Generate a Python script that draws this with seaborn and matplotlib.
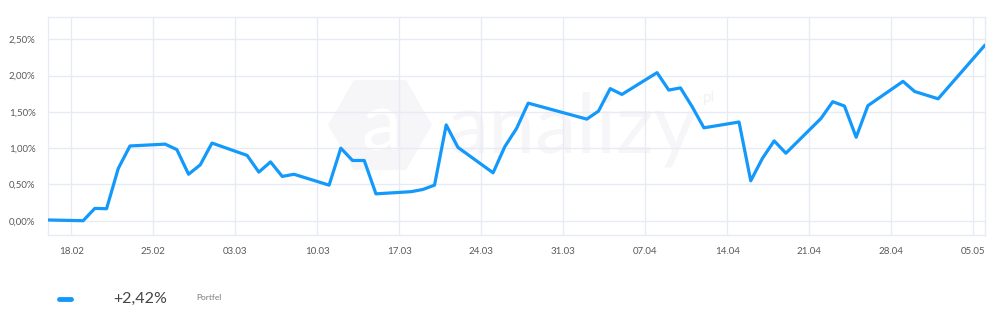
import matplotlib
matplotlib.use("Agg")
import matplotlib.pyplot as plt
import matplotlib.dates as mdates
import matplotlib.ticker as mticker
from matplotlib.patches import RegularPolygon
from matplotlib.transforms import IdentityTransform
import seaborn as sns
import pandas as pd
import numpy as np

dates = ["2024-02-16", "2024-02-19", "2024-02-20", "2024-02-21", "2024-02-22", "2024-02-23",
         "2024-02-26", "2024-02-27", "2024-02-28", "2024-02-29", "2024-03-01",
         "2024-03-04", "2024-03-05", "2024-03-06", "2024-03-07", "2024-03-08",
         "2024-03-11", "2024-03-12", "2024-03-13", "2024-03-14", "2024-03-15",
         "2024-03-18", "2024-03-19", "2024-03-20", "2024-03-21", "2024-03-22",
         "2024-03-25", "2024-03-26", "2024-03-27", "2024-03-28",
         "2024-04-02", "2024-04-03", "2024-04-04", "2024-04-05",
         "2024-04-08", "2024-04-09", "2024-04-10", "2024-04-11", "2024-04-12",
         "2024-04-15", "2024-04-16", "2024-04-17", "2024-04-18", "2024-04-19",
         "2024-04-22", "2024-04-23", "2024-04-24", "2024-04-25", "2024-04-26",
         "2024-04-29", "2024-04-30", "2024-05-02", "2024-05-06"]
values = [0.01, 0.00, 0.17, 0.165, 0.72, 1.03,
          1.055, 0.98, 0.64, 0.77, 1.07,
          0.90, 0.67, 0.81, 0.61, 0.64,
          0.49, 1.00, 0.83, 0.83, 0.37,
          0.40, 0.43, 0.49, 1.32, 1.01,
          0.66, 1.02, 1.27, 1.62,
          1.40, 1.51, 1.82, 1.74,
          2.04, 1.80, 1.83, 1.57, 1.28,
          1.36, 0.55, 0.86, 1.10, 0.93,
          1.41, 1.64, 1.58, 1.15, 1.585,
          1.92, 1.78, 1.68, 2.42]
y_ticks = [0.0, 0.5, 1.0, 1.5, 2.0, 2.5]
x_ticks = ["2024-02-18", "2024-02-25", "2024-03-03", "2024-03-10", "2024-03-17", "2024-03-24",
           "2024-03-31", "2024-04-07", "2024-04-14", "2024-04-21", "2024-04-28", "2024-05-05"]
series_name = "Portfel"
total_label = "+2,42%"

df = pd.DataFrame({"date": pd.to_datetime(dates), "value": values})

sns.set_theme(style="white")
plt.rcParams["font.family"] = ["Lato", "DejaVu Sans"]

LINE = "#1399fb"
GRID = "#e9ebf4"
TXT = "#5a5a5a"
WM = "#f6f6f8"

fig = plt.figure(figsize=(10, 3.26), dpi=100)
ax = fig.add_axes([0.048, 1 - 235 / 326, 0.937, (235 - 17) / 326])
ax.set_zorder(5)
ax.set_facecolor("none")

# faint watermark behind the chart (pixel coordinates)
fig.patches.append(RegularPolygon((380, 326 - 125), numVertices=6, radius=52,
                                  orientation=np.pi / 6, transform=IdentityTransform(),
                                  facecolor=WM, edgecolor="none", zorder=0))
fig.text(0.381, 1 - 128 / 326, "a", fontsize=58, color="#ffffff", ha="center", va="center", zorder=1)
fig.text(0.447, 1 - 130 / 326, "analizy", fontsize=60, color=WM, ha="left", va="center", zorder=1)
fig.text(0.703, 1 - 98 / 326, "pl", fontsize=11, color="#f2f2f5", ha="left", va="center", zorder=1)

sns.lineplot(data=df, x="date", y="value", ax=ax, color=LINE, linewidth=2.3, zorder=3)

ax.set_xlim(pd.Timestamp("2024-02-16"), pd.Timestamp("2024-05-06"))
ax.set_ylim(-0.197, 2.807)
ax.set_yticks(y_ticks)
ax.yaxis.set_major_formatter(mticker.FuncFormatter(lambda v, p: f"{v:.2f}%".replace(".", ",")))
ax.set_xticks(pd.to_datetime(x_ticks))
ax.xaxis.set_major_formatter(mdates.DateFormatter("%d.%m"))
ax.grid(True, color=GRID, linewidth=1.0)
ax.set_axisbelow(True)
for s in ax.spines.values():
    s.set_color(GRID)
    s.set_linewidth(1.0)
ax.tick_params(axis="both", length=0, labelsize=7, labelcolor=TXT)
ax.tick_params(axis="x", pad=9)
ax.tick_params(axis="y", pad=9)
ax.set_xlabel("")
ax.set_ylabel("")

# legend-like footer
fig.add_artist(plt.Line2D([0.059, 0.071], [1 - 299 / 326, 1 - 299 / 326], transform=fig.transFigure,
                          color=LINE, linewidth=3.5, solid_capstyle="round"))
fig.text(0.113, 1 - 299 / 326, total_label, fontsize=11.5, color="#444444", ha="left", va="center")
fig.text(0.196, 1 - 298 / 326, series_name, fontsize=6, color="#777777", ha="left", va="center")

fig.savefig("out.png", dpi=100)
